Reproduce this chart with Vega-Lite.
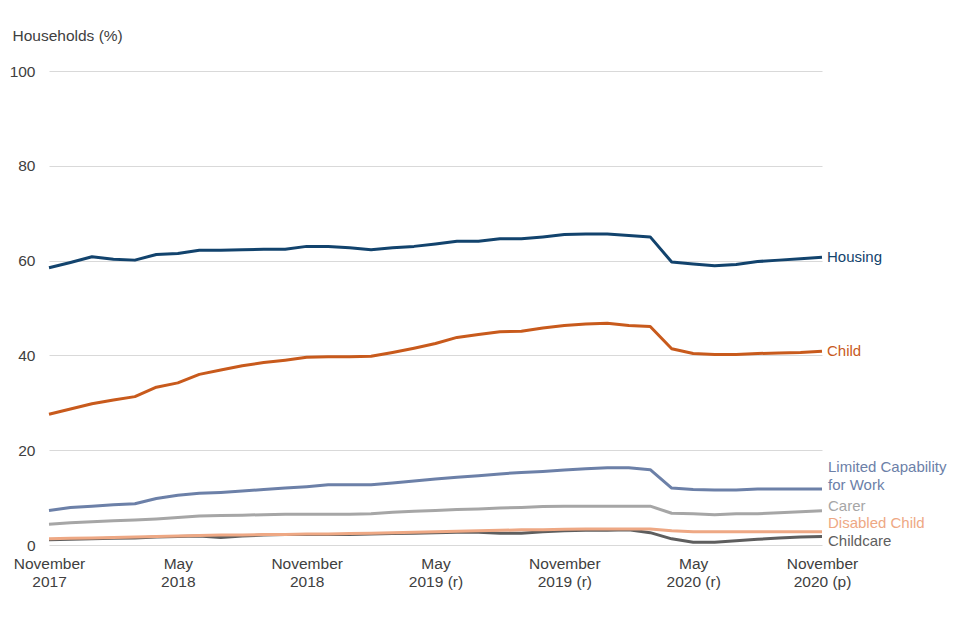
{
  "$schema": "https://vega.github.io/schema/vega-lite/v6.json",
  "autosize": {"type": "none"},
  "width": 773,
  "height": 474,
  "padding": {"left": 49, "top": 71, "right": 138, "bottom": 95},
  "background": "white",
  "config": {
    "font": "Liberation Sans",
    "view": {"stroke": null},
    "axis": {"labelFont": "Liberation Sans", "titleFont": "Liberation Sans"}
  },
  "data": {"values": [
    {"month":"2017-11","series":"Housing","value":58.5},{"month":"2017-12","series":"Housing","value":59.6},{"month":"2018-01","series":"Housing","value":60.8},{"month":"2018-02","series":"Housing","value":60.3},{"month":"2018-03","series":"Housing","value":60.1},{"month":"2018-04","series":"Housing","value":61.3},{"month":"2018-05","series":"Housing","value":61.5},{"month":"2018-06","series":"Housing","value":62.2},{"month":"2018-07","series":"Housing","value":62.2},{"month":"2018-08","series":"Housing","value":62.3},{"month":"2018-09","series":"Housing","value":62.4},{"month":"2018-10","series":"Housing","value":62.4},{"month":"2018-11","series":"Housing","value":63.0},{"month":"2018-12","series":"Housing","value":63.0},{"month":"2019-01","series":"Housing","value":62.7},{"month":"2019-02","series":"Housing","value":62.3},{"month":"2019-03","series":"Housing","value":62.7},{"month":"2019-04","series":"Housing","value":63.0},{"month":"2019-05","series":"Housing","value":63.5},{"month":"2019-06","series":"Housing","value":64.1},{"month":"2019-07","series":"Housing","value":64.1},{"month":"2019-08","series":"Housing","value":64.6},{"month":"2019-09","series":"Housing","value":64.6},{"month":"2019-10","series":"Housing","value":65.0},{"month":"2019-11","series":"Housing","value":65.5},{"month":"2019-12","series":"Housing","value":65.6},{"month":"2020-01","series":"Housing","value":65.6},{"month":"2020-02","series":"Housing","value":65.3},{"month":"2020-03","series":"Housing","value":65.0},{"month":"2020-04","series":"Housing","value":59.7},{"month":"2020-05","series":"Housing","value":59.3},{"month":"2020-06","series":"Housing","value":58.9},{"month":"2020-07","series":"Housing","value":59.2},{"month":"2020-08","series":"Housing","value":59.8},{"month":"2020-09","series":"Housing","value":60.1},{"month":"2020-10","series":"Housing","value":60.4},{"month":"2020-11","series":"Housing","value":60.7},
    {"month":"2017-11","series":"Child","value":27.6},{"month":"2017-12","series":"Child","value":28.7},{"month":"2018-01","series":"Child","value":29.8},{"month":"2018-02","series":"Child","value":30.6},{"month":"2018-03","series":"Child","value":31.3},{"month":"2018-04","series":"Child","value":33.3},{"month":"2018-05","series":"Child","value":34.2},{"month":"2018-06","series":"Child","value":36.0},{"month":"2018-07","series":"Child","value":36.9},{"month":"2018-08","series":"Child","value":37.8},{"month":"2018-09","series":"Child","value":38.5},{"month":"2018-10","series":"Child","value":39.0},{"month":"2018-11","series":"Child","value":39.6},{"month":"2018-12","series":"Child","value":39.7},{"month":"2019-01","series":"Child","value":39.7},{"month":"2019-02","series":"Child","value":39.8},{"month":"2019-03","series":"Child","value":40.6},{"month":"2019-04","series":"Child","value":41.5},{"month":"2019-05","series":"Child","value":42.5},{"month":"2019-06","series":"Child","value":43.8},{"month":"2019-07","series":"Child","value":44.4},{"month":"2019-08","series":"Child","value":45.0},{"month":"2019-09","series":"Child","value":45.1},{"month":"2019-10","series":"Child","value":45.8},{"month":"2019-11","series":"Child","value":46.3},{"month":"2019-12","series":"Child","value":46.6},{"month":"2020-01","series":"Child","value":46.8},{"month":"2020-02","series":"Child","value":46.3},{"month":"2020-03","series":"Child","value":46.1},{"month":"2020-04","series":"Child","value":41.4},{"month":"2020-05","series":"Child","value":40.4},{"month":"2020-06","series":"Child","value":40.2},{"month":"2020-07","series":"Child","value":40.2},{"month":"2020-08","series":"Child","value":40.4},{"month":"2020-09","series":"Child","value":40.5},{"month":"2020-10","series":"Child","value":40.6},{"month":"2020-11","series":"Child","value":40.9},
    {"month":"2017-11","series":"Limited Capability for Work","value":7.3},{"month":"2017-12","series":"Limited Capability for Work","value":7.9},{"month":"2018-01","series":"Limited Capability for Work","value":8.2},{"month":"2018-02","series":"Limited Capability for Work","value":8.5},{"month":"2018-03","series":"Limited Capability for Work","value":8.7},{"month":"2018-04","series":"Limited Capability for Work","value":9.8},{"month":"2018-05","series":"Limited Capability for Work","value":10.5},{"month":"2018-06","series":"Limited Capability for Work","value":10.9},{"month":"2018-07","series":"Limited Capability for Work","value":11.1},{"month":"2018-08","series":"Limited Capability for Work","value":11.4},{"month":"2018-09","series":"Limited Capability for Work","value":11.7},{"month":"2018-10","series":"Limited Capability for Work","value":12.0},{"month":"2018-11","series":"Limited Capability for Work","value":12.3},{"month":"2018-12","series":"Limited Capability for Work","value":12.7},{"month":"2019-01","series":"Limited Capability for Work","value":12.7},{"month":"2019-02","series":"Limited Capability for Work","value":12.7},{"month":"2019-03","series":"Limited Capability for Work","value":13.1},{"month":"2019-04","series":"Limited Capability for Work","value":13.5},{"month":"2019-05","series":"Limited Capability for Work","value":13.9},{"month":"2019-06","series":"Limited Capability for Work","value":14.3},{"month":"2019-07","series":"Limited Capability for Work","value":14.6},{"month":"2019-08","series":"Limited Capability for Work","value":15.0},{"month":"2019-09","series":"Limited Capability for Work","value":15.3},{"month":"2019-10","series":"Limited Capability for Work","value":15.5},{"month":"2019-11","series":"Limited Capability for Work","value":15.8},{"month":"2019-12","series":"Limited Capability for Work","value":16.1},{"month":"2020-01","series":"Limited Capability for Work","value":16.3},{"month":"2020-02","series":"Limited Capability for Work","value":16.3},{"month":"2020-03","series":"Limited Capability for Work","value":15.9},{"month":"2020-04","series":"Limited Capability for Work","value":12.0},{"month":"2020-05","series":"Limited Capability for Work","value":11.7},{"month":"2020-06","series":"Limited Capability for Work","value":11.6},{"month":"2020-07","series":"Limited Capability for Work","value":11.6},{"month":"2020-08","series":"Limited Capability for Work","value":11.8},{"month":"2020-09","series":"Limited Capability for Work","value":11.8},{"month":"2020-10","series":"Limited Capability for Work","value":11.8},{"month":"2020-11","series":"Limited Capability for Work","value":11.8},
    {"month":"2017-11","series":"Carer","value":4.4},{"month":"2017-12","series":"Carer","value":4.7},{"month":"2018-01","series":"Carer","value":4.9},{"month":"2018-02","series":"Carer","value":5.1},{"month":"2018-03","series":"Carer","value":5.3},{"month":"2018-04","series":"Carer","value":5.5},{"month":"2018-05","series":"Carer","value":5.8},{"month":"2018-06","series":"Carer","value":6.1},{"month":"2018-07","series":"Carer","value":6.2},{"month":"2018-08","series":"Carer","value":6.3},{"month":"2018-09","series":"Carer","value":6.4},{"month":"2018-10","series":"Carer","value":6.5},{"month":"2018-11","series":"Carer","value":6.5},{"month":"2018-12","series":"Carer","value":6.5},{"month":"2019-01","series":"Carer","value":6.5},{"month":"2019-02","series":"Carer","value":6.6},{"month":"2019-03","series":"Carer","value":6.9},{"month":"2019-04","series":"Carer","value":7.1},{"month":"2019-05","series":"Carer","value":7.3},{"month":"2019-06","series":"Carer","value":7.5},{"month":"2019-07","series":"Carer","value":7.6},{"month":"2019-08","series":"Carer","value":7.8},{"month":"2019-09","series":"Carer","value":7.9},{"month":"2019-10","series":"Carer","value":8.1},{"month":"2019-11","series":"Carer","value":8.2},{"month":"2019-12","series":"Carer","value":8.2},{"month":"2020-01","series":"Carer","value":8.2},{"month":"2020-02","series":"Carer","value":8.2},{"month":"2020-03","series":"Carer","value":8.2},{"month":"2020-04","series":"Carer","value":6.7},{"month":"2020-05","series":"Carer","value":6.6},{"month":"2020-06","series":"Carer","value":6.4},{"month":"2020-07","series":"Carer","value":6.6},{"month":"2020-08","series":"Carer","value":6.6},{"month":"2020-09","series":"Carer","value":6.8},{"month":"2020-10","series":"Carer","value":7.0},{"month":"2020-11","series":"Carer","value":7.2},
    {"month":"2017-11","series":"Childcare","value":1.1},{"month":"2017-12","series":"Childcare","value":1.2},{"month":"2018-01","series":"Childcare","value":1.3},{"month":"2018-02","series":"Childcare","value":1.4},{"month":"2018-03","series":"Childcare","value":1.5},{"month":"2018-04","series":"Childcare","value":1.7},{"month":"2018-05","series":"Childcare","value":1.8},{"month":"2018-06","series":"Childcare","value":1.9},{"month":"2018-07","series":"Childcare","value":1.6},{"month":"2018-08","series":"Childcare","value":1.9},{"month":"2018-09","series":"Childcare","value":2.1},{"month":"2018-10","series":"Childcare","value":2.2},{"month":"2018-11","series":"Childcare","value":2.2},{"month":"2018-12","series":"Childcare","value":2.2},{"month":"2019-01","series":"Childcare","value":2.2},{"month":"2019-02","series":"Childcare","value":2.3},{"month":"2019-03","series":"Childcare","value":2.4},{"month":"2019-04","series":"Childcare","value":2.5},{"month":"2019-05","series":"Childcare","value":2.6},{"month":"2019-06","series":"Childcare","value":2.7},{"month":"2019-07","series":"Childcare","value":2.7},{"month":"2019-08","series":"Childcare","value":2.5},{"month":"2019-09","series":"Childcare","value":2.5},{"month":"2019-10","series":"Childcare","value":2.8},{"month":"2019-11","series":"Childcare","value":3.0},{"month":"2019-12","series":"Childcare","value":3.1},{"month":"2020-01","series":"Childcare","value":3.1},{"month":"2020-02","series":"Childcare","value":3.2},{"month":"2020-03","series":"Childcare","value":2.6},{"month":"2020-04","series":"Childcare","value":1.3},{"month":"2020-05","series":"Childcare","value":0.6},{"month":"2020-06","series":"Childcare","value":0.6},{"month":"2020-07","series":"Childcare","value":0.9},{"month":"2020-08","series":"Childcare","value":1.2},{"month":"2020-09","series":"Childcare","value":1.5},{"month":"2020-10","series":"Childcare","value":1.7},{"month":"2020-11","series":"Childcare","value":1.8},
    {"month":"2017-11","series":"Disabled Child","value":1.3},{"month":"2017-12","series":"Disabled Child","value":1.4},{"month":"2018-01","series":"Disabled Child","value":1.5},{"month":"2018-02","series":"Disabled Child","value":1.6},{"month":"2018-03","series":"Disabled Child","value":1.7},{"month":"2018-04","series":"Disabled Child","value":1.8},{"month":"2018-05","series":"Disabled Child","value":1.9},{"month":"2018-06","series":"Disabled Child","value":2.0},{"month":"2018-07","series":"Disabled Child","value":2.1},{"month":"2018-08","series":"Disabled Child","value":2.1},{"month":"2018-09","series":"Disabled Child","value":2.2},{"month":"2018-10","series":"Disabled Child","value":2.2},{"month":"2018-11","series":"Disabled Child","value":2.3},{"month":"2018-12","series":"Disabled Child","value":2.3},{"month":"2019-01","series":"Disabled Child","value":2.4},{"month":"2019-02","series":"Disabled Child","value":2.5},{"month":"2019-03","series":"Disabled Child","value":2.6},{"month":"2019-04","series":"Disabled Child","value":2.7},{"month":"2019-05","series":"Disabled Child","value":2.8},{"month":"2019-06","series":"Disabled Child","value":2.9},{"month":"2019-07","series":"Disabled Child","value":3.0},{"month":"2019-08","series":"Disabled Child","value":3.1},{"month":"2019-09","series":"Disabled Child","value":3.2},{"month":"2019-10","series":"Disabled Child","value":3.2},{"month":"2019-11","series":"Disabled Child","value":3.3},{"month":"2019-12","series":"Disabled Child","value":3.4},{"month":"2020-01","series":"Disabled Child","value":3.4},{"month":"2020-02","series":"Disabled Child","value":3.4},{"month":"2020-03","series":"Disabled Child","value":3.4},{"month":"2020-04","series":"Disabled Child","value":3.0},{"month":"2020-05","series":"Disabled Child","value":2.8},{"month":"2020-06","series":"Disabled Child","value":2.8},{"month":"2020-07","series":"Disabled Child","value":2.8},{"month":"2020-08","series":"Disabled Child","value":2.8},{"month":"2020-09","series":"Disabled Child","value":2.8},{"month":"2020-10","series":"Disabled Child","value":2.8},{"month":"2020-11","series":"Disabled Child","value":2.8}
  ]},
  "encoding": {
    "x": {
      "field": "month", "type": "ordinal",
      "scale": {"type": "point", "padding": 0},
      "axis": {
        "title": null, "domain": false, "ticks": false, "grid": false, "labelAngle": 0,
        "values": ["2017-11","2018-05","2018-11","2019-05","2019-11","2020-05","2020-11"],
        "labelExpr": "datum.value == '2017-11' ? ['November','2017'] : datum.value == '2018-05' ? ['May','2018'] : datum.value == '2018-11' ? ['November','2018'] : datum.value == '2019-05' ? ['May','2019 (r)'] : datum.value == '2019-11' ? ['November','2019 (r)'] : datum.value == '2020-05' ? ['May','2020 (r)'] : ['November','2020 (p)']",
        "labelFontSize": 15.5, "labelColor": "#404040", "labelPadding": 11, "labelLineHeight": 18,
        "labelBaseline": "top", "labelAlign": "center", "labelFlush": false, "labelOverlap": false
      }
    },
    "y": {
      "field": "value", "type": "quantitative",
      "scale": {"domain": [0, 100], "nice": false, "zero": true},
      "axis": {
        "title": "Households  (%)", "titleAngle": 0, "titleX": -37, "titleY": -36,
        "titleAlign": "left", "titleBaseline": "middle", "titleFontSize": 15.5, "titleFontWeight": "normal", "titleColor": "#404040",
        "values": [0, 20, 40, 60, 80, 100], "domain": false, "ticks": false,
        "labelFontSize": 15.5, "labelColor": "#404040", "labelPadding": 14,
        "gridColor": "#d9d9d9", "gridWidth": 1
      }
    },
    "color": {
      "field": "series", "type": "nominal", "legend": null,
      "scale": {
        "domain": ["Housing","Child","Limited Capability for Work","Carer","Childcare","Disabled Child"],
        "range": ["#12436D","#C85A1C","#6C80A8","#A6A6A6","#5E5E5E","#EEA884"]
      }
    }
  },
  "layer": [
    {"mark": {"type": "line", "strokeWidth": 3, "strokeJoin": "round"}},
    {
      "transform": [{"filter": "datum.month == '2020-11' && (datum.series == 'Housing' || datum.series == 'Child')"}],
      "mark": {"type": "text", "align": "left", "baseline": "middle", "dx": 5, "fontSize": 15},
      "encoding": {"text": {"field": "series"}}
    },
    {
      "transform": [{"filter": "datum.month == '2020-11' && datum.series == 'Limited Capability for Work'"}],
      "mark": {"type": "text", "align": "left", "baseline": "middle", "dx": 6, "dy": -22, "fontSize": 15, "lineHeight": 18},
      "encoding": {"text": {"value": ["Limited Capability", "for Work"]}}
    },
    {
      "transform": [{"filter": "datum.month == '2020-11' && datum.series == 'Carer'"}],
      "mark": {"type": "text", "align": "left", "baseline": "middle", "dx": 6, "dy": -5, "fontSize": 15},
      "encoding": {"text": {"field": "series"}}
    },
    {
      "transform": [{"filter": "datum.month == '2020-11' && datum.series == 'Disabled Child'"}],
      "mark": {"type": "text", "align": "left", "baseline": "middle", "dx": 6, "dy": -9, "fontSize": 15},
      "encoding": {"text": {"field": "series"}}
    },
    {
      "transform": [{"filter": "datum.month == '2020-11' && datum.series == 'Childcare'"}],
      "mark": {"type": "text", "align": "left", "baseline": "middle", "dx": 6, "dy": 5, "fontSize": 15},
      "encoding": {"text": {"field": "series"}}
    }
  ]
}
